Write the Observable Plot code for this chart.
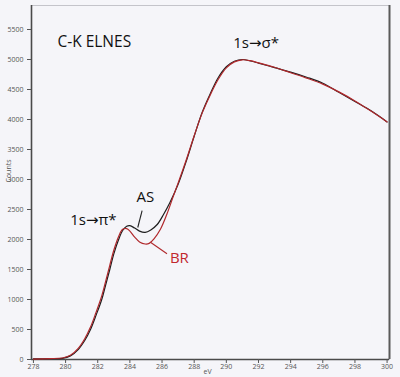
<!DOCTYPE html>
<html>
<head>
<meta charset="utf-8">
<script src="https://cdn.jsdelivr.net/npm/d3@7"></script>
<script src="https://cdn.jsdelivr.net/npm/@observablehq/plot@0.6"></script>
<style>
  html, body { margin: 0; padding: 0; background: #f5f5f9; }
  #chart { width: 400px; height: 377px; }
</style>
</head>
<body>
<div id="chart"></div>
<script>
// Energy loss (eV) and counts, AS spectrum (black)
const evAS = [278, 279, 279.8, 280.3, 280.8, 281.2, 281.55, 281.9, 282.25, 282.5, 282.75, 283.0, 283.3, 283.55, 283.8, 284.0, 284.3, 284.6, 284.95, 285.3, 285.7, 286.1, 286.5, 287.0, 287.5, 288.0, 288.5, 289.0, 289.5, 290.0, 290.5, 291.0, 291.5, 292.0, 293.0, 294.0, 295.0, 296.0, 297.0, 298.0, 299.0, 300.0];
const countsAS = [10, 15, 20, 60, 170, 320, 500, 740, 1000, 1250, 1500, 1760, 2000, 2150, 2220, 2230, 2190, 2140, 2120, 2160, 2250, 2420, 2620, 2920, 3300, 3720, 4120, 4430, 4700, 4880, 4970, 5000, 4975, 4940, 4865, 4790, 4705, 4605, 4455, 4300, 4145, 3960];
// BR spectrum (red)
const evBR = [278, 279, 279.8, 280.3, 280.8, 281.2, 281.55, 281.9, 282.25, 282.5, 282.75, 283.0, 283.3, 283.55, 283.8, 284.0, 284.3, 284.6, 284.95, 285.2, 285.5, 285.9, 286.3, 286.7, 287.0, 287.5, 288.0, 288.5, 289.0, 289.5, 290.0, 290.5, 291.0, 291.5, 292.0, 293.0, 294.0, 295.0, 296.0, 297.0, 298.0, 299.0, 300.0];
const countsBR = [5, 15, 25, 70, 190, 350, 540, 790, 1060, 1310, 1570, 1820, 2050, 2170, 2180, 2140, 2040, 1960, 1925, 1935, 2010, 2170, 2420, 2720, 2940, 3320, 3730, 4110, 4410, 4670, 4860, 4960, 4995, 4980, 4945, 4870, 4780, 4690, 4590, 4460, 4310, 4140, 3960];

const xTicks = [278, 280, 282, 284, 286, 288, 290, 292, 294, 296, 298, 300];
const yTicks = [0, 500, 1000, 1500, 2000, 2500, 3000, 3500, 4000, 4500, 5000, 5500];
const xDomain = [277.88, 300.15];
const yDomain = [0, 5900];

// annotations: text, x (eV), y (counts)
const titleText = ["C-K ELNES"];
const titleX = [279.49];
const titleY = [5208];
const peakText = ["1s→σ*", "1s→π*"];
const peakX = [291.85, 281.73];
const peakY = [5195, 2250];
const tagText = ["AS", "BR"];
const tagX = [284.97, 287.08];
const tagY = [2622, 1605];
const tagColor = ["#111", "#c1272d"];
// leader lines: [x1, y1, x2, y2]
const leaderAS = [284.76, 2480, 284.49, 2200];
const leaderBR = [285.28, 1955, 286.31, 1762];

const AS = evAS.map((e, i) => ({ev: e, c: countsAS[i]}));
const BR = evBR.map((e, i) => ({ev: e, c: countsBR[i]}));
const titles = titleText.map((t, i) => ({t, x: titleX[i], y: titleY[i]}));
const peaks = peakText.map((t, i) => ({t, x: peakX[i], y: peakY[i]}));
const tags = tagText.map((t, i) => ({t, x: tagX[i], y: tagY[i], color: tagColor[i]}));
const leaders = [
  {x1: leaderAS[0], y1: leaderAS[1], x2: leaderAS[2], y2: leaderAS[3], color: "#222"},
  {x1: leaderBR[0], y1: leaderBR[1], x2: leaderBR[2], y2: leaderBR[3], color: "#b0282c"}
];

const labelFont = "'Open Sans', 'DejaVu Sans', sans-serif";

const chart = Plot.plot({
  width: 400,
  height: 377,
  marginLeft: 31,
  marginRight: 11,
  marginTop: 5,
  marginBottom: 18,
  style: {background: "#f5f5f9", fontFamily: "'Open Sans', sans-serif", overflow: "visible"},
  x: {domain: xDomain, label: null},
  y: {domain: yDomain, label: null},
  marks: [
    Plot.frame({stroke: "#c4c4ca", strokeWidth: 1}),
    Plot.ruleX([xDomain[0]], {stroke: "#4a4a4a", strokeWidth: 1.6}),
    Plot.ruleX([xDomain[1]], {stroke: "#5a5a5a", strokeWidth: 2}),
    Plot.ruleY([yDomain[0]], {stroke: "#4a4a4a", strokeWidth: 1.6}),
    Plot.axisX({ticks: xTicks, tickFormat: d => String(d), tickSize: 4, tickPadding: 1, fontSize: 7, fill: "#555", stroke: "#555", label: null}),
    Plot.axisY({ticks: yTicks, tickFormat: d => String(d), tickSize: 4, tickPadding: 4, fontSize: 7, fill: "#555", stroke: "#555", label: null}),
    Plot.text(["Counts"], {frameAnchor: "left", rotate: -90, dx: -23, fontSize: 7, fill: "#555"}),
    Plot.text(["eV"], {frameAnchor: "bottom", dy: 14, dx: -3, fontSize: 7, fill: "#555"}),
    Plot.line(AS, {x: "ev", y: "c", stroke: "#1e1e1e", strokeWidth: 1.2, curve: "catmull-rom"}),
    Plot.line(BR, {x: "ev", y: "c", stroke: "#b0282c", strokeWidth: 1.2, curve: "catmull-rom"}),
    Plot.link(leaders, {x1: "x1", y1: "y1", x2: "x2", y2: "y2", stroke: "color", strokeWidth: 1.1}),
    Plot.text(titles, {x: "x", y: "y", text: "t", fill: "#111", textAnchor: "start", lineAnchor: "bottom", fontSize: 15.5, fontFamily: labelFont}),
    Plot.text(peaks, {x: "x", y: "y", text: "t", fill: "#111", textAnchor: "middle", lineAnchor: "bottom", fontSize: 15, fontFamily: labelFont}),
    Plot.text(tags, {x: "x", y: "y", text: "t", fill: "color", textAnchor: "middle", lineAnchor: "bottom", fontSize: 15, fontFamily: labelFont})
  ]
});
document.getElementById("chart").appendChild(chart);
</script>
</body>
</html>
